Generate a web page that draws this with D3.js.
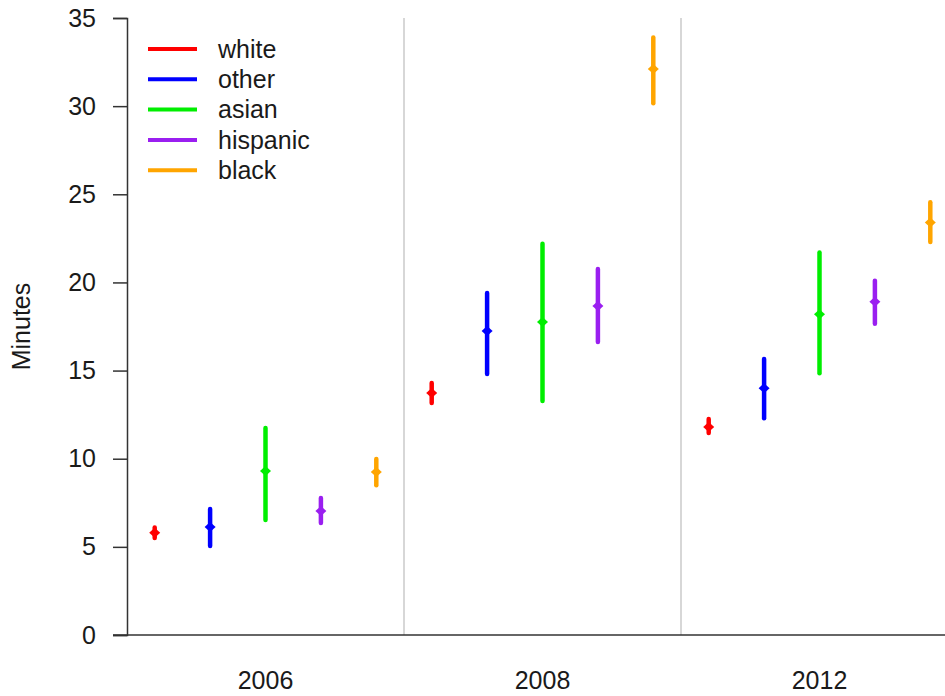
<!DOCTYPE html>
<meta charset="utf-8">
<style>
  body { margin: 0; background: #fff; }
  text { font-family: "Liberation Sans", Arial, sans-serif; fill: #1a1a1a; }
</style>
<body>
<div id="chart"></div>
<script src="https://d3js.org/d3.v7.min.js"></script>
<script>

// Data
var years = ["2006", "2008", "2012"];
var groups = ["white", "other", "asian", "hispanic", "black"];
var colors = ["#ff0000", "#0000ff", "#00ee00", "#9a1ff0", "#ffa500"];
var yTicks = [0, 5, 10, 15, 20, 25, 30, 35];

// estimates per year, in group order
var est2006 = [5.8, 6.13, 9.3, 7.03, 9.25];
var lo2006  = [5.5, 5.05, 6.52, 6.35, 8.5];
var hi2006  = [6.1, 7.15, 11.74, 7.77, 9.98];

var est2008 = [13.73, 17.24, 17.75, 18.66, 32.1];
var lo2008  = [13.16, 14.8, 13.27, 16.62, 30.17];
var hi2008  = [14.3, 19.4, 22.2, 20.76, 33.9];

var est2012 = [11.8, 14.0, 18.2, 18.9, 23.4];
var lo2012  = [11.46, 12.3, 14.85, 17.65, 22.3];
var hi2012  = [12.25, 15.65, 21.7, 20.1, 24.55];

var est = [est2006, est2008, est2012],
    lo = [lo2006, lo2008, lo2012],
    hi = [hi2006, hi2008, hi2012];

var rows = [];
years.forEach(function(yr, i) {
  groups.forEach(function(g, j) {
    rows.push({year: yr, group: g, color: colors[j], est: est[i][j], lo: lo[i][j], hi: hi[i][j]});
  });
});

// Layout
var width = 945, height = 696;
var margin = {top: 18, left: 127, bottom: 61};
var panelW = 277;
var fs = "25px";

var svg = d3.select("#chart").append("svg")
    .attr("width", width)
    .attr("height", height);

var y = d3.scaleLinear().domain([0, 35]).range([height - margin.bottom, margin.top]);
var x0 = d3.scaleBand().domain(years).range([margin.left, margin.left + panelW * 3]);
var x1 = d3.scalePoint().domain(groups).range([0, x0.bandwidth()]).padding(0.5);

// panel separators
svg.selectAll(".sep")
  .data(years.slice(1))
  .enter().append("line")
    .attr("class", "sep")
    .attr("x1", function(d) { return x0(d); })
    .attr("x2", function(d) { return x0(d); })
    .attr("y1", y(35))
    .attr("y2", y(0))
    .attr("stroke", "#bdbdbd")
    .attr("stroke-width", 1.2);

// y axis
var yAxis = svg.append("g")
    .attr("transform", "translate(" + margin.left + ",0)")
    .call(d3.axisLeft(y).tickValues(yTicks).tickSize(14).tickPadding(17));
yAxis.select(".domain").attr("stroke", "#333").attr("stroke-width", 1.5);
yAxis.selectAll(".tick line").attr("stroke", "#333").attr("stroke-width", 1.5);
yAxis.selectAll(".tick text").style("font-size", fs).attr("fill", "#1a1a1a");

// bottom line
svg.append("line")
    .attr("x1", margin.left - 14)
    .attr("x2", width)
    .attr("y1", y(0))
    .attr("y2", y(0))
    .attr("stroke", "#333")
    .attr("stroke-width", 1.5);

// year labels
svg.selectAll(".year")
  .data(years)
  .enter().append("text")
    .attr("class", "year")
    .attr("x", function(d) { return x0(d) + x0.bandwidth() / 2; })
    .attr("y", 689)
    .attr("text-anchor", "middle")
    .style("font-size", fs)
    .text(function(d) { return d; });

// y label
svg.append("text")
    .attr("transform", "translate(30," + y(17.5) + ") rotate(-90)")
    .attr("text-anchor", "middle")
    .style("font-size", fs)
    .text("Minutes");

// error bars
var px = function(d) { return x0(d.year) + x1(d.group); };

svg.selectAll(".bar")
  .data(rows)
  .enter().append("line")
    .attr("class", "bar")
    .attr("x1", px)
    .attr("x2", px)
    .attr("y1", function(d) { return y(d.lo); })
    .attr("y2", function(d) { return y(d.hi); })
    .attr("stroke", function(d) { return d.color; })
    .attr("stroke-width", 4.5)
    .attr("stroke-linecap", "round");

svg.selectAll(".pt")
  .data(rows)
  .enter().append("path")
    .attr("class", "pt")
    .attr("transform", function(d) { return "translate(" + px(d) + "," + y(d.est) + ")"; })
    .attr("d", "M-5.5,0L0,-5L5.5,0L0,5Z")
    .attr("fill", function(d) { return d.color; });

// legend
var legend = svg.selectAll(".leg")
  .data(groups)
  .enter().append("g")
    .attr("class", "leg")
    .attr("transform", function(d, i) { return "translate(148," + (49 + i * 30.3) + ")"; });

legend.append("line")
    .attr("x1", 0).attr("x2", 49)
    .attr("stroke", function(d, i) { return colors[i]; })
    .attr("stroke-width", 4);

legend.append("text")
    .attr("x", 70)
    .attr("dy", "0.35em")
    .style("font-size", fs)
    .text(function(d) { return d; });

</script>
</body>
